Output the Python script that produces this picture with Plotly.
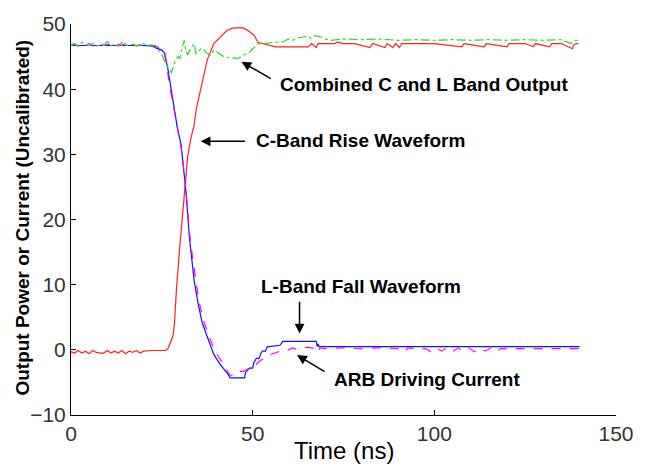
import plotly.graph_objects as go

# ---------------- data ----------------
# C-Band rise waveform (red)
red_t = [0, 1, 2, 3, 4, 5, 6, 7, 8, 9, 10, 11, 12, 13, 14, 15, 16, 17, 18, 19, 20, 21, 22, 23, 24, 25, 26, 26.7,
         27.4, 28.1, 28.5, 29.0, 29.9, 31.2, 32.1, 33.0, 33.9, 34.5, 35.7, 37.5, 39.3, 41.1, 42.9, 44.7, 47.4,
         48.7, 50.5, 51.4, 52.7, 56.3, 60, 65.3, 66.2, 67.5, 68, 72.5, 73.4, 75, 78, 82.3, 83, 86.4, 87, 88.6,
         89.3, 90.4, 91, 95, 100, 107.5, 108.2, 113.7, 114.3, 120, 120.6, 125, 127.2, 127.8, 131.7, 132.3, 135,
         138.0, 138.4, 139, 139.7]
red_v = [-0.3, -0.5, -0.1, -0.5, -0.2, -0.6, -0.1, -0.4, -0.5, -0.5, -0.1, -0.5, -0.2, -0.5, -0.1, -0.6, -0.2,
         -0.4, -0.1, -0.5, -0.2, -0.1, -0.1, -0.1, -0.1, -0.1, -0.1, 0.2,
         1.2, 2.2, 4.2, 9.1, 15.6, 24.1, 29.6, 32.5, 34.5, 37.0, 40.0, 44.5, 47.0, 48.0, 49.0, 49.4, 49.4,
         49.0, 48.2, 47.2, 47.0, 46.5, 46.5, 46.5, 47.0, 46.4, 47.0, 47.0, 47.2, 47.0, 47.0, 46.4, 47.0, 46.4,
         47.0, 46.4, 47.0, 46.4, 47.0, 47.0, 47.0, 46.5, 47.0, 46.5, 47.0, 46.5, 47.0, 47.0, 46.5, 47.0, 46.5,
         47.0, 47.0, 46.2, 46.8, 47.0, 47.0]

# L-Band fall waveform (blue)
blue_t = [0, 5, 10, 15, 20, 22.5, 23.5, 25, 25.8, 26.7, 28.1, 28.6, 29.3, 30.3, 31.0, 31.7, 32.6, 33.9, 35.0,
          36.1, 37.5, 39.3, 41.0, 42.5, 43.3, 43.8, 47.8, 48.0, 49.1, 50.0, 50.3, 51.0, 51.8, 52.2, 52.7, 53.5,
          54.0, 57.5, 58.0, 58.3, 67.5, 67.8, 68.0, 68.3, 100, 140]
blue_v = [46.7, 46.7, 46.8, 46.7, 46.7, 46.6, 46.3, 46.0, 45.5, 43.0, 38.5, 36.5, 34.0, 31.5, 27.5, 23.9, 17.2,
          10.6, 7.0, 4.2, 2.0, -0.7, -2.2, -3.2, -3.8, -4.3, -4.3, -3.5, -2.8, -2.8, -2.0, -1.3, -1.3, -0.6,
          -0.2, -0.2, 0.45, 0.7, 1.0, 1.3, 1.3, 0.5, 0.9, 0.5, 0.5, 0.5]

# ARB driving current (magenta)
mag_t = [0, 1, 2, 3, 4, 5, 6, 7, 8, 9, 10, 11, 12, 13, 14, 15, 16, 17, 18, 19, 20, 21, 22, 23, 24.5, 25.5,
         26.3, 27.0, 28.0, 28.8, 29.5, 30.3, 31.2, 32.0, 32.8, 33.5, 34.3, 35.2, 36.5, 38.0, 39.5, 41.0, 42.5,
         43.8, 45.5, 46.5, 47.5, 49.0, 50.5, 51.8, 53.0, 54.5, 55.5, 57.1, 58.0, 59.9, 61.0, 62.0, 63.5, 65.0,
         67.1, 68.0, 68.5, 70, 75, 80, 85, 90, 92, 92.6, 95, 97.6, 99, 100.5, 102, 103.5, 105, 106.5, 108,
         109.5, 111, 112.5, 114, 115.5, 117, 118.2, 120, 125, 130, 135, 140]
mag_v = [46.8, 47.0, 46.6, 47.1, 46.7, 47.0, 46.6, 46.9, 47.1, 46.7, 46.8, 47.0, 46.6, 46.9, 46.7, 47.0, 46.7,
         46.9, 46.6, 46.8, 46.7, 46.9, 46.6, 46.7, 46.3, 45.8, 44.0, 41.0, 38.0, 35.5, 33.0, 31.0, 27.0, 22.0,
         17.0, 14.0, 11.0, 7.5, 4.5, 2.0, 0.0, -1.5, -2.8, -3.9, -3.9, -3.3, -3.3, -2.8, -2.5, -1.8, -1.3,
         -0.8, -0.6, -0.3, 0.0, 0.0, 0.3, 0.1, 0.2, 0.4, 0.2, -0.4, 0.3, 0.2, 0.3, 0.2, 0.3, 0.2, -0.3, 0.3,
         0.2, 0.2, -0.3, 0.3, -0.2, 0.3, -0.3, 0.3, -0.2, 0.3, -0.3, 0.3, -0.2, 0.3, -0.3, 0.2, 0.2, 0.2,
         0.2, 0.2, 0.2]

# Combined C and L band output (green)
grn_t = [0, 1, 2, 3, 4, 5, 6, 7, 8, 9, 10, 11, 12, 13, 14, 15, 16, 17, 18, 19, 20, 21, 22, 23, 24, 25, 26, 27,
         27.6, 28.5, 29.4, 30.0, 30.6, 31.2, 31.6, 32.1, 33.0, 33.9, 34.4, 34.8, 35.7, 36.6, 37.5, 38.4, 39.3,
         40.2, 41.1, 42.0, 43.0, 43.8, 45.0, 46.0, 47.0, 48.3, 49.2, 50.0, 51.0, 51.8, 53.0, 54.5, 56.0, 58.1,
         59.9, 61.0, 62.5, 64.0, 65.3, 66.0, 67.0, 68.9, 70.0, 71.6, 75, 80, 85, 90, 95, 100, 105, 110, 115,
         120, 125, 130, 135, 137.5, 138.5, 140]
grn_v = [46.7, 46.9, 46.6, 47.2, 46.8, 46.7, 47.0, 46.6, 46.8, 46.7, 47.3, 46.7, 46.9, 46.6, 47.2, 46.8, 46.7,
         46.9, 46.7, 46.8, 47.0, 46.7, 46.8, 46.7, 46.0, 45.3, 44.0, 43.0,
         42.5, 44.0, 45.0, 44.7, 46.5, 47.5, 45.8, 45.3, 46.3, 47.0, 45.5, 45.5, 46.2, 46.0, 45.5, 45.2, 46.0,
         45.7, 45.3, 45.0, 44.9, 44.7, 44.8, 44.7, 45.1, 45.5, 45.7, 46.2, 46.6, 47.0, 47.0, 47.1, 47.2, 47.2,
         47.7, 47.5, 47.9, 48.0, 48.2, 47.8, 48.2, 48.0, 47.7, 47.5, 47.7, 47.6, 47.7, 47.5, 47.6, 47.5, 47.6,
         47.5, 47.6, 47.5, 47.6, 47.5, 47.6, 47.0, 47.5, 47.5]

x_ticks = [0, 50, 100, 150]
y_ticks = [-10, 0, 10, 20, 30, 40, 50]

# ---------------- figure ----------------
fig = go.Figure()
fig.add_trace(go.Scatter(x=red_t, y=red_v, mode="lines", line=dict(color="#ff2020", width=1.2)))
fig.add_trace(go.Scatter(x=blue_t, y=blue_v, mode="lines", line=dict(color="#1010ff", width=1.2)))
fig.add_trace(go.Scatter(x=mag_t, y=mag_v, mode="lines", line=dict(color="#ff00ff", width=1.2, dash="dash")))
fig.add_trace(go.Scatter(x=grn_t, y=grn_v, mode="lines", line=dict(color="#22dd22", width=1.2, dash="dashdot")))

tick_font = dict(family="Liberation Sans Narrow, Arial Narrow, Liberation Sans", size=21, color="#333333")
fig.update_xaxes(range=[0, 150], tickvals=x_ticks, showline=True, linecolor="black", linewidth=1,
                 ticks="inside", ticklen=5, tickcolor="black", showgrid=False, zeroline=False,
                 tickfont=tick_font)
fig.update_yaxes(range=[-10, 50], tickvals=y_ticks, showline=True, linecolor="black", linewidth=1,
                 ticks="inside", ticklen=5, tickcolor="black", showgrid=False, zeroline=False,
                 tickfont=tick_font)

bold = dict(family="Liberation Sans, Arial", size=19, color="black")
anns = [
    dict(text="<b>Combined C and L Band Output</b>", x=56.9, y=40.7),
    dict(text="<b>C-Band Rise Waveform</b>", x=50.4, y=32.1),
    dict(text="<b>L-Band Fall Waveform</b>", x=51.7, y=9.7),
    dict(text="<b>ARB Driving Current</b>", x=71.7, y=-4.5),
]
for a in anns:
    fig.add_annotation(text=a["text"], x=a["x"], y=a["y"], xref="x", yref="y", xanchor="left",
                       yanchor="middle", showarrow=False, font=bold)
arrows = [
    (46.9, 44.2, 55.4, 41.5),
    (35.7, 32.0, 48.3, 32.0),
    (62.9, 2.5, 62.9, 7.6),
    (62.2, -0.8, 70.2, -3.5),
]
for (x, y, ax, ay) in arrows:
    fig.add_annotation(text="", x=x, y=y, ax=ax, ay=ay, xref="x", yref="y", axref="x", ayref="y",
                       showarrow=True, arrowhead=2, arrowsize=1.3, arrowwidth=1.5, arrowcolor="black")

fig.add_annotation(text="<b>Output Power or Current (Uncalibrated)</b>", xref="paper", yref="paper",
                   x=-0.088, y=0.505, textangle=-90, showarrow=False, xanchor="center", yanchor="middle",
                   font=dict(family="Liberation Sans, Arial", size=19, color="black"))
fig.add_annotation(text="Time (ns)", xref="paper", yref="paper", x=0.5, y=-0.092, showarrow=False,
                   xanchor="center", yanchor="middle",
                   font=dict(family="Liberation Sans Narrow, Arial Narrow, Liberation Sans", size=24,
                             color="black"))

fig.update_layout(width=646, height=469, margin=dict(l=71, r=18, t=13, b=54), showlegend=False,
                  plot_bgcolor="white", paper_bgcolor="white")
fig.write_html("out.html")
